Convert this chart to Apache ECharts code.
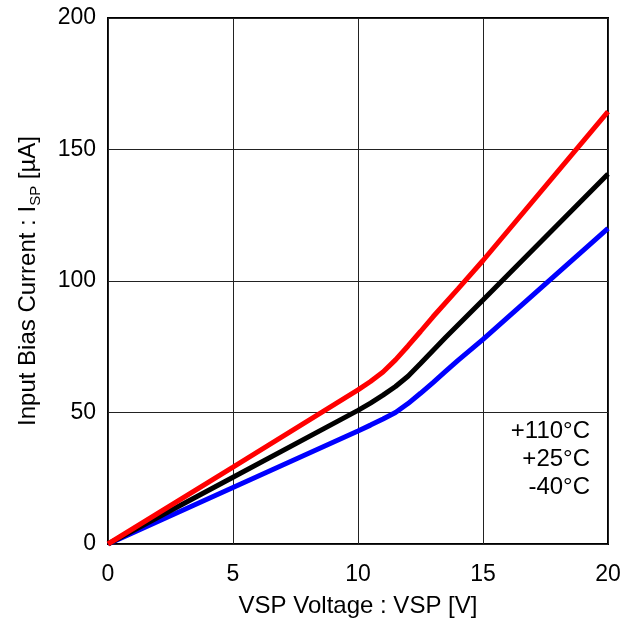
<!DOCTYPE html>
<html>
<head>
<meta charset="utf-8">
<script src="https://cdn.jsdelivr.net/npm/echarts@6/dist/echarts.min.js"></script>
<style>html,body{margin:0;padding:0;background:#fff;}#c{width:637px;height:625px;}</style>
</head>
<body>
<div id="c"></div>
<script>
// VSP voltage [V]
const vspRed   = [0, 5, 10, 10.5, 11, 11.5, 12, 12.5, 13, 14, 15, 20];
const isp110   = [0, 29.2, 58.6, 61.8, 65.4, 70.0, 75.3, 80.8, 86.4, 97.0, 107.8, 164.4];
const vspBlack = [0, 5, 10, 10.5, 11, 11.5, 12, 12.5, 13, 13.5, 14, 15, 20];
const isp25    = [0, 25.4, 50.8, 53.6, 56.6, 59.9, 63.8, 68.6, 73.6, 78.5, 83.3, 92.8, 140.7];
const vspBlue  = [0, 5, 10, 10.5, 11, 11.5, 12, 12.5, 13, 13.5, 14, 15, 20];
const ispM40   = [0, 21.5, 43.0, 45.2, 47.5, 50.0, 53.4, 57.3, 61.4, 65.6, 69.8, 77.8, 120.0];
const seriesNames = ['+110°C', '+25°C', '-40°C'];
const xTicks = [0, 5, 10, 15, 20];
const yTicks = [0, 50, 100, 150, 200];

const pair = (xs, ys) => xs.map((x, i) => [x, ys[i]]);
const FONT = 'Liberation Sans, Arial, sans-serif';
const chart = echarts.init(document.getElementById('c'));
chart.setOption({
  animation: false,
  grid: { left: 108, right: 29, top: 18, bottom: 81, show: true, borderColor: '#000', borderWidth: 2, backgroundColor: 'transparent' },
  xAxis: {
    type: 'value', min: xTicks[0], max: xTicks[xTicks.length - 1], interval: 5,
    axisLine: { show: false }, axisTick: { show: false },
    splitLine: { show: true, lineStyle: { color: '#222', width: 1 } },
    axisLabel: { color: '#000', fontSize: 23, fontFamily: FONT, margin: 19 },
    name: 'VSP Voltage : VSP [V]', nameLocation: 'middle', nameGap: 50,
    nameTextStyle: { color: '#000', fontSize: 24, fontFamily: FONT }
  },
  yAxis: {
    type: 'value', min: yTicks[0], max: yTicks[yTicks.length - 1], interval: 50,
    axisLine: { show: false }, axisTick: { show: false },
    splitLine: { show: true, lineStyle: { color: '#222', width: 1 } },
    axisLabel: { color: '#000', fontSize: 23, fontFamily: FONT, margin: 12 },
    name: 'Input Bias Current : I{sub|SP} [µA]', nameLocation: 'middle', nameGap: 65, nameRotate: 90,
    nameTextStyle: { color: '#000', fontSize: 24, fontFamily: FONT, lineHeight: 30,
      rich: { sub: { fontSize: 15, fontFamily: FONT, color: '#000', verticalAlign: 'bottom', lineHeight: 30 } } }
  },
  series: [
    { name: seriesNames[2], type: 'line', data: pair(vspBlue, ispM40), showSymbol: false, lineStyle: { color: '#0000ff', width: 5 }, z: 3 },
    { name: seriesNames[1], type: 'line', data: pair(vspBlack, isp25), showSymbol: false, lineStyle: { color: '#000000', width: 5 }, z: 4 },
    { name: seriesNames[0], type: 'line', data: pair(vspRed, isp110), showSymbol: false, lineStyle: { color: '#ff0000', width: 5 }, z: 5 }
  ],
  graphic: seriesNames.map((t, i) => ({
    type: 'text', right: 47, top: 419 + i * 28,
    style: { text: t, fill: '#000', fontSize: 24, fontFamily: FONT, textAlign: 'right' }
  }))
});
</script>
</body>
</html>
